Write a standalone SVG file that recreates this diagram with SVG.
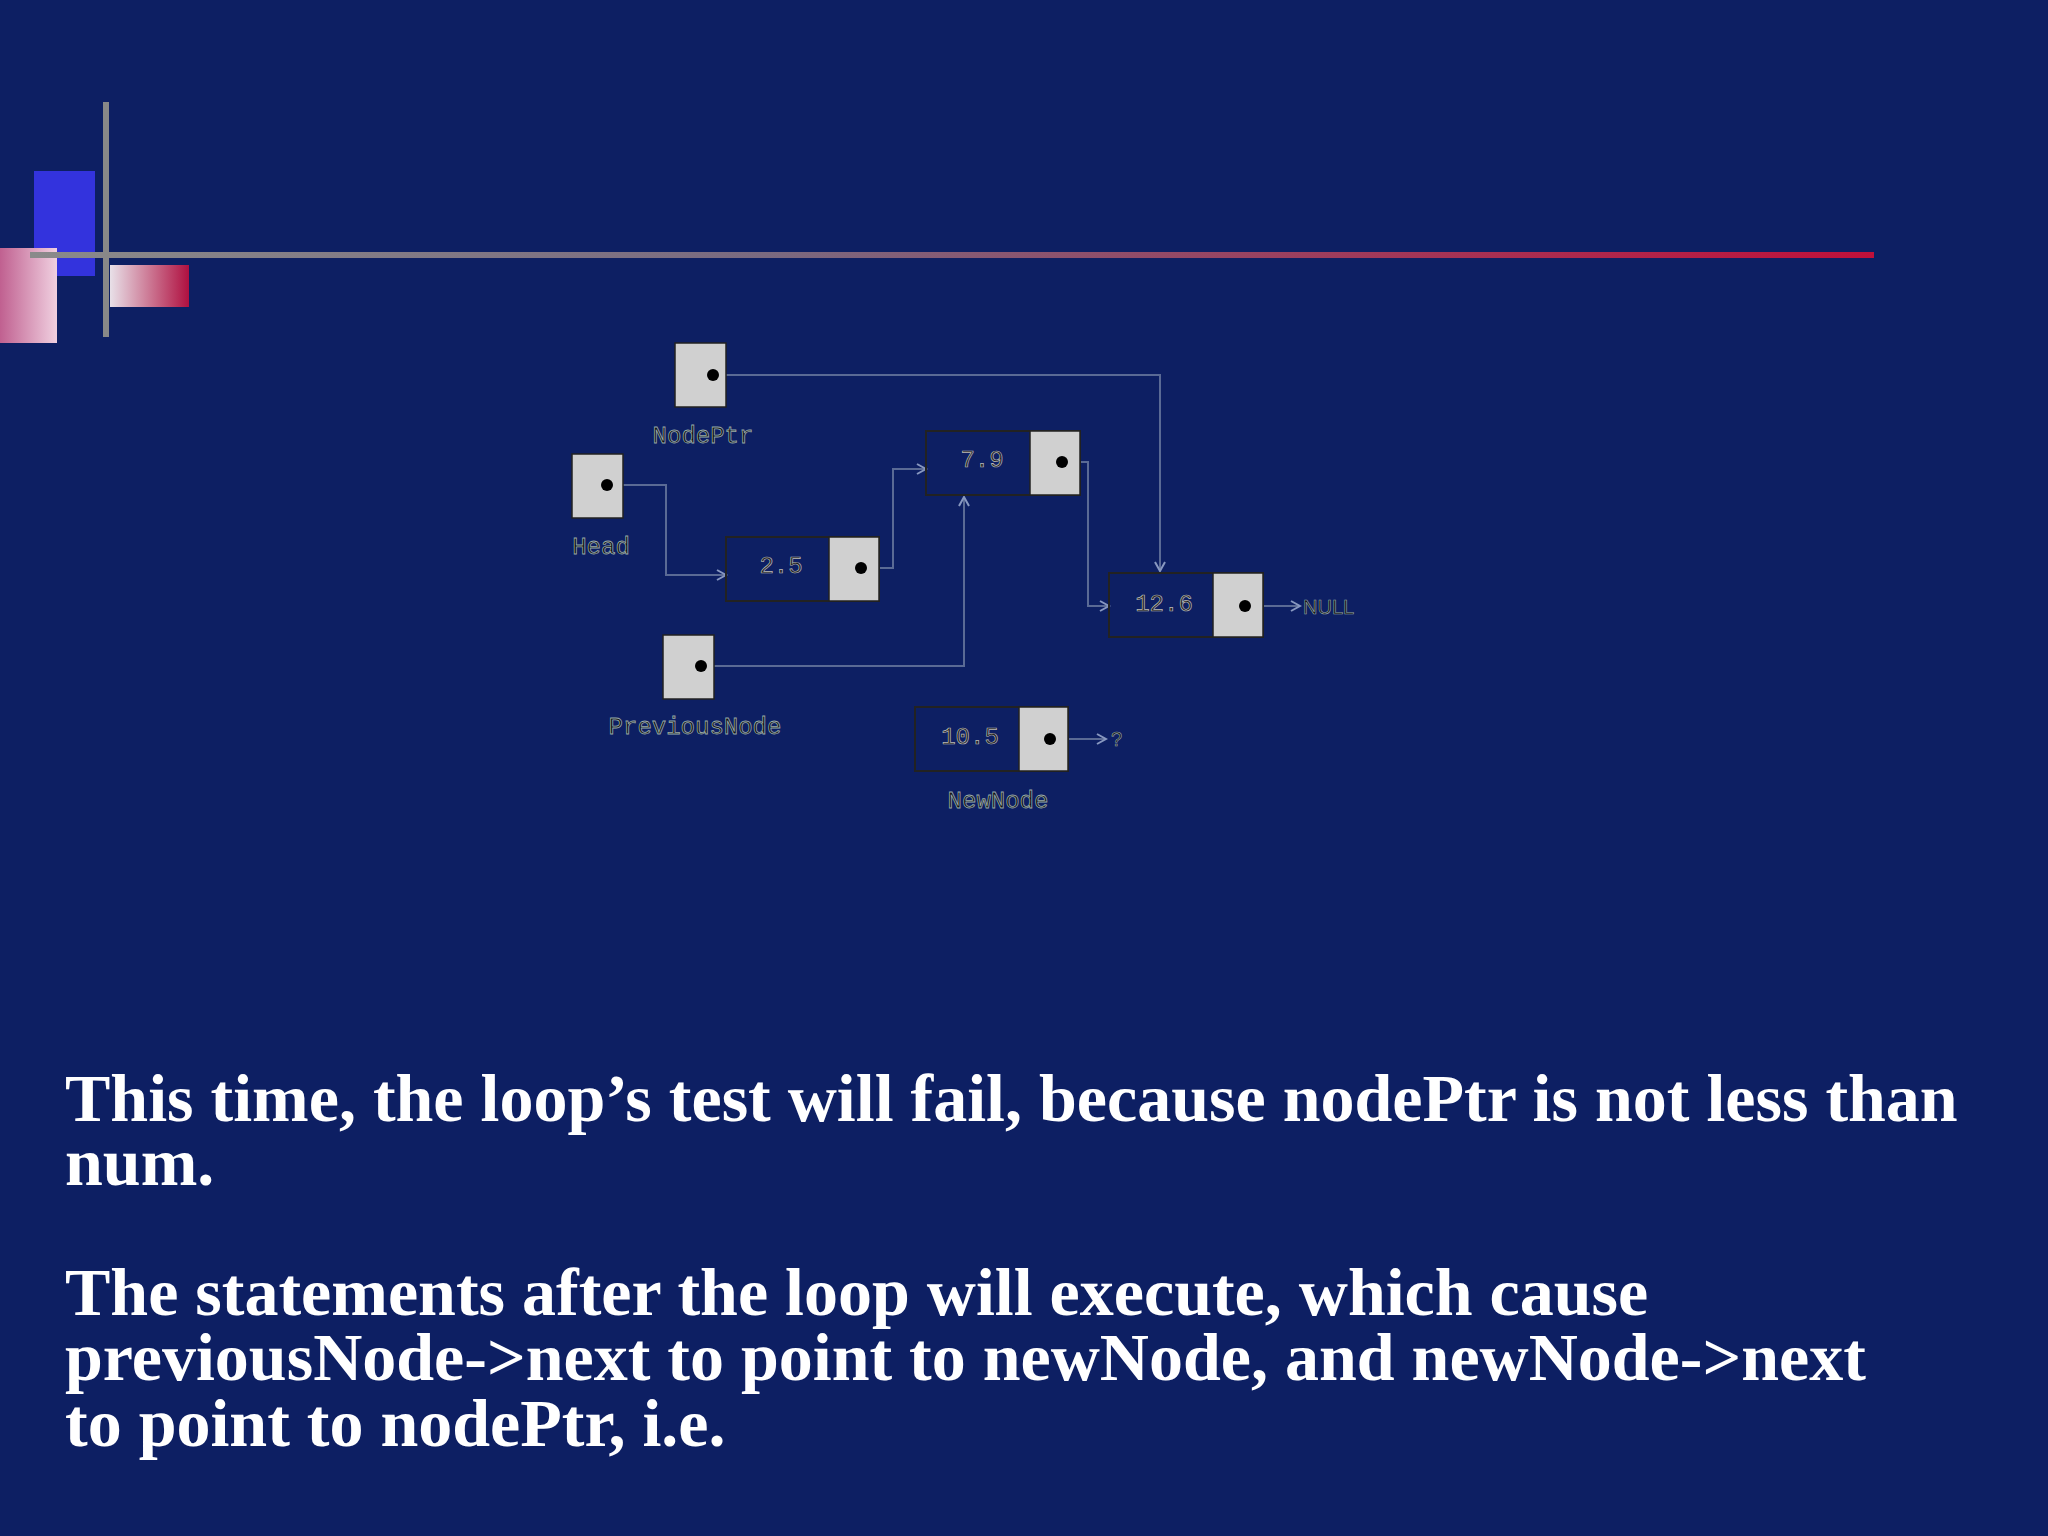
<svg xmlns="http://www.w3.org/2000/svg" width="2048" height="1536" viewBox="0 0 2048 1536">
<defs>
<linearGradient id="hl" x1="0" x2="1"><stop offset="0" stop-color="#8a8a8a"/><stop offset="0.4" stop-color="#7a6a80"/><stop offset="1" stop-color="#c0103a"/></linearGradient>
<linearGradient id="pk" x1="0" x2="1"><stop offset="0" stop-color="#c06090"/><stop offset="1" stop-color="#f0d0e0"/></linearGradient>
<linearGradient id="rd" x1="0" x2="1"><stop offset="0" stop-color="#e8e0e8"/><stop offset="1" stop-color="#b01040"/></linearGradient>
<marker id="ah" markerWidth="12" markerHeight="12" refX="10" refY="6" orient="auto" markerUnits="userSpaceOnUse"><path d="M1,1 L10,6 L1,11" fill="none" stroke="#8898c0" stroke-width="2"/></marker>
<style>
.ptr{fill:#d0d0d0;stroke:#222;stroke-width:1.5}
.dat{fill:none;stroke:#222;stroke-width:2}
.dot{fill:#000}
.lbl{font-family:"Liberation Mono",monospace;font-size:24px;fill:#111;stroke:#9aa;stroke-width:0.8;text-anchor:middle}
.num{font-family:"Liberation Mono",monospace;font-size:24px;fill:#222;stroke:#bbb;stroke-width:0.7;text-anchor:middle}
.c{fill:none;stroke:#5a6a95;stroke-width:2}
.body{font-family:"Liberation Serif",serif;font-weight:bold;font-size:68px;fill:#fff}
</style>
</defs>
<rect width="2048" height="1536" fill="#0d1f63"/>
<rect x="34" y="171" width="61" height="105" fill="#3333dd"/>
<rect x="0" y="248" width="57" height="95" fill="url(#pk)"/>
<rect x="110" y="265" width="79" height="42" fill="url(#rd)"/>
<rect x="30" y="252" width="1844" height="6" fill="url(#hl)"/>
<rect x="103" y="102" width="6" height="235" fill="#888"/>

<g id="connectors">
<path class="c" d="M713,375 H1160 V571" marker-end="url(#ah)"/>
<path class="c" d="M607,485 H666 V575 H726" marker-end="url(#ah)"/>
<path class="c" d="M861,568 H893 V469 H926" marker-end="url(#ah)"/>
<path class="c" d="M1062,462 H1088 V606 H1109" marker-end="url(#ah)"/>
<path class="c" d="M701,666 H964 V497" marker-end="url(#ah)"/>
<path class="c" d="M1245,606 H1300" marker-end="url(#ah)"/>
<path class="c" d="M1050,739 H1106" marker-end="url(#ah)"/>
</g>

<g id="nodeptr"><rect class="ptr" x="675" y="343" width="51" height="64"/><circle class="dot" cx="713" cy="375" r="6"/><text class="lbl" x="703" y="443">NodePtr</text></g>
<g id="head"><rect class="ptr" x="572" y="454" width="51" height="64"/><circle class="dot" cx="607" cy="485" r="6"/><text class="lbl" x="601" y="554">Head</text></g>
<g id="n25"><rect class="dat" x="726" y="537" width="153" height="64"/><rect class="ptr" x="829" y="537" width="50" height="64"/><circle class="dot" cx="861" cy="568" r="6"/><text class="num" x="781" y="573">2.5</text></g>
<g id="n79"><rect class="dat" x="926" y="431" width="154" height="64"/><rect class="ptr" x="1030" y="431" width="50" height="64"/><circle class="dot" cx="1062" cy="462" r="6"/><text class="num" x="982" y="467">7.9</text></g>
<g id="n126"><rect class="dat" x="1109" y="573" width="154" height="64"/><rect class="ptr" x="1213" y="573" width="50" height="64"/><circle class="dot" cx="1245" cy="606" r="6"/><text class="num" x="1164" y="611">12.6</text><text x="1303" y="614" font-family="Liberation Sans,sans-serif" font-size="20" fill="#111" stroke="#9aa" stroke-width="0.6">NULL</text></g>
<g id="previousnode"><rect class="ptr" x="663" y="635" width="51" height="64"/><circle class="dot" cx="701" cy="666" r="6"/><text class="lbl" x="695" y="734">PreviousNode</text></g>
<g id="newnode"><rect class="dat" x="915" y="707" width="153" height="64"/><rect class="ptr" x="1019" y="707" width="49" height="64"/><circle class="dot" cx="1050" cy="739" r="6"/><text class="num" x="970" y="744">10.5</text><text x="1111" y="746" font-family="Liberation Sans,sans-serif" font-size="20" fill="#111" stroke="#9aa" stroke-width="0.6">?</text><text class="lbl" x="998" y="808">NewNode</text></g>

<g id="caption">
<text class="body" x="65" y="1121">This time, the loop’s test will fail, because nodePtr is not less than</text>
<text class="body" x="65" y="1185">num.</text>
<text class="body" x="65" y="1315">The statements after the loop will execute, which cause</text>
<text class="body" x="65" y="1380">previousNode-&gt;next to point to newNode, and newNode-&gt;next</text>
<text class="body" x="65" y="1446">to point to nodePtr, i.e.</text>
</g>
</svg>
